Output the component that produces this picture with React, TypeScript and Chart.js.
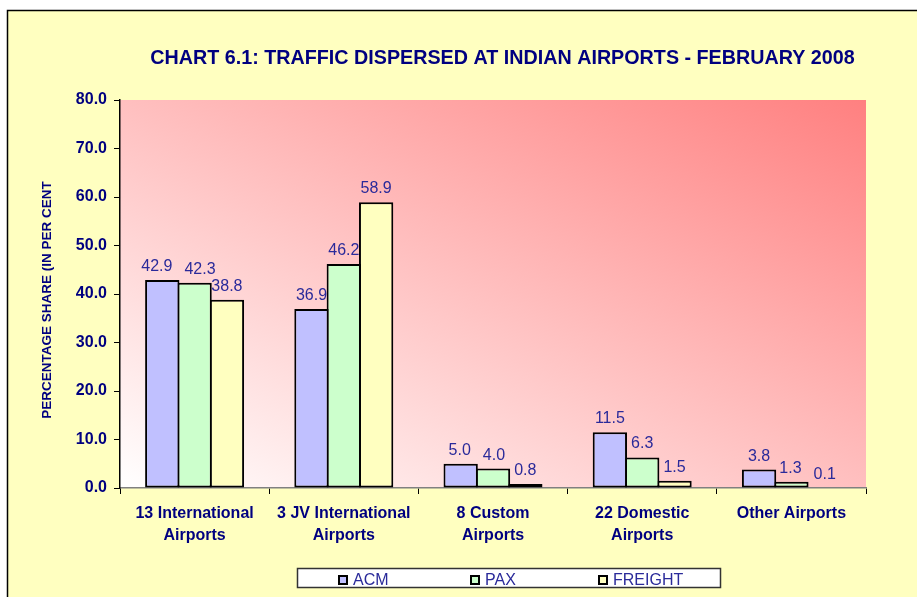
import React, { useEffect, useRef } from "react";
import { Chart, registerables } from "chart.js";

Chart.register(...registerables);

const categories: string[][] = [
  ["13 International", "Airports"],
  ["3 JV International", "Airports"],
  ["8 Custom", "Airports"],
  ["22 Domestic", "Airports"],
  ["Other Airports"],
];
const seriesNames = ["ACM", "PAX", "FREIGHT"];
const acmValues = [42.9, 36.9, 5.0, 11.5, 3.8];
const paxValues = [42.3, 46.2, 4.0, 6.3, 1.3];
const freightValues = [38.8, 58.9, 0.8, 1.5, 0.1];
const yMin = 0;
const yMax = 80;
const yStep = 10;
const chartTitle = "CHART 6.1: TRAFFIC DISPERSED AT INDIAN AIRPORTS - FEBRUARY 2008";
const yAxisTitle = "PERCENTAGE SHARE (IN PER CENT";

const seriesColors = ["#C0C0FF", "#CCFFCC", "#FFFFC0"];
const FONT = '"Liberation Sans", Arial, sans-serif';
const NAVY = "#000080";
const LABEL_BLUE = "#2A2A9A";
const BG_YELLOW = "#FFFFC0";

const decorPlugin = {
  id: "decor",
  beforeDraw(chart: any) {
    const ctx = chart.ctx as CanvasRenderingContext2D;
    const W = chart.width;
    const H = chart.height;
    ctx.save();
    ctx.fillStyle = "#FFFFFF";
    ctx.fillRect(0, 0, W, H);
    ctx.fillStyle = BG_YELLOW;
    ctx.fillRect(7, 10, W, H);
    ctx.strokeStyle = "#000000";
    ctx.lineWidth = 1.5;
    ctx.strokeRect(7.5, 10.5, W + 20, H + 20);

    // plot area gradient (diagonal, white bottom-left to red top-right)
    const a = chart.chartArea;
    const w = a.right - a.left;
    const h = a.bottom - a.top;
    const len = Math.hypot(w, h);
    const nx = h / len;
    const ny = -w / len;
    const d = (2 * w * h) / len;
    const g = ctx.createLinearGradient(a.left, a.bottom, a.left + nx * d, a.bottom + ny * d);
    g.addColorStop(0, "#FFFFFF");
    g.addColorStop(1, "#FF8080");
    ctx.fillStyle = g;
    ctx.fillRect(a.left, a.top, w, h);

    // title
    ctx.fillStyle = NAVY;
    ctx.textAlign = "center";
    ctx.textBaseline = "alphabetic";
    ctx.font = `bold 100px ${FONT}`;
    const mw = ctx.measureText(chartTitle).width;
    const size = (100 * 705) / mw;
    ctx.font = `bold ${size}px ${FONT}`;
    ctx.fillText(chartTitle, 502.5, 63.5);
    ctx.restore();
  },
  afterDatasetsDraw(chart: any) {
    const ctx = chart.ctx as CanvasRenderingContext2D;
    ctx.save();
    ctx.fillStyle = LABEL_BLUE;
    ctx.font = `16px ${FONT}`;
    ctx.textAlign = "center";
    ctx.textBaseline = "alphabetic";
    const nCat = chart.data.labels.length;
    const nDs = chart.data.datasets.length;
    const textH = 12;
    const minGap = 12;
    for (let j = 0; j < nCat; j++) {
      const items: { text: string; x: number; y: number; w: number }[] = [];
      for (let i = 0; i < nDs; i++) {
        const ds = chart.data.datasets[i];
        const el = chart.getDatasetMeta(i).data[j];
        const text = Number(ds.data[j]).toFixed(1);
        items.push({ text, x: el.x, y: el.y - 9, w: ctx.measureText(text).width });
      }
      // simple repel between neighbouring labels that collide
      for (let k = 1; k < items.length; k++) {
        const p = items[k - 1];
        const c = items[k];
        const vOverlap = Math.abs(p.y - c.y) < textH;
        const gap = c.x - c.w / 2 - (p.x + p.w / 2);
        if (vOverlap && gap < minGap) {
          const deficit = minGap - gap;
          p.x -= deficit / 2;
          c.x += deficit / 2;
        }
      }
      items.forEach((it) => ctx.fillText(it.text, it.x, it.y));
    }
    ctx.restore();
  },
  afterDraw(chart: any) {
    const ctx = chart.ctx as CanvasRenderingContext2D;
    ctx.save();
    // y axis title
    ctx.translate(47, 300);
    ctx.rotate(-Math.PI / 2);
    ctx.fillStyle = NAVY;
    ctx.font = `bold 13.5px ${FONT}`;
    ctx.textAlign = "center";
    ctx.textBaseline = "middle";
    ctx.fillText(yAxisTitle, 0, 0);
    ctx.restore();

    // legend
    ctx.save();
    ctx.fillStyle = "#FFFFFF";
    ctx.fillRect(297.5, 568.5, 423, 19);
    ctx.strokeStyle = "#333333";
    ctx.lineWidth = 1.5;
    ctx.strokeRect(297.5, 568.5, 423, 19);
    const itemX = [338, 470, 598];
    ctx.font = `16px ${FONT}`;
    ctx.textAlign = "left";
    ctx.textBaseline = "alphabetic";
    chart.data.datasets.forEach((ds: any, i: number) => {
      const x = itemX[i];
      ctx.fillStyle = ds.backgroundColor;
      ctx.fillRect(x, 575, 10, 10);
      ctx.strokeStyle = "#000000";
      ctx.lineWidth = 2;
      ctx.strokeRect(x + 1, 576, 8, 8);
      ctx.fillStyle = LABEL_BLUE;
      ctx.fillText(ds.label, x + 15, 585);
    });
    ctx.restore();
  },
};

export default function App() {
  const ref = useRef<HTMLCanvasElement | null>(null);
  useEffect(() => {
    if (!ref.current) return;
    const seriesData = [acmValues, paxValues, freightValues];
    const chart = new Chart(ref.current, {
      type: "bar",
      data: {
        labels: categories,
        datasets: seriesNames.map((name, i) => ({
          label: name,
          data: seriesData[i],
          backgroundColor: seriesColors[i],
          borderColor: "#000000",
          borderWidth: 2,
          borderSkipped: false,
          categoryPercentage: 0.65,
          barPercentage: 1.062,
        })),
      },
      options: {
        responsive: false,
        animation: false,
        devicePixelRatio: 1,
        layout: { padding: { left: 0, right: 51, top: 100, bottom: 0 } },
        plugins: {
          legend: { display: false },
          title: { display: false },
          tooltip: { enabled: false },
        },
        scales: {
          x: {
            grid: {
              display: true,
              drawOnChartArea: false,
              drawTicks: true,
              tickLength: 6,
              tickColor: "#000000",
              offset: true,
            },
            border: { display: true, color: "#808080", width: 1.5 },
            ticks: {
              color: NAVY,
              font: { family: FONT, size: 16, weight: "bold", lineHeight: 1.35 },
              padding: 9,
              maxRotation: 0,
              autoSkip: false,
            },
            afterFit: (s: any) => {
              s.height = 109;
            },
          },
          y: {
            min: yMin,
            max: yMax,
            ticks: {
              stepSize: yStep,
              callback: (v: any) => Number(v).toFixed(1),
              color: NAVY,
              font: { family: FONT, size: 16, weight: "bold" },
              padding: 7,
            },
            grid: {
              drawOnChartArea: false,
              drawTicks: true,
              tickLength: 6,
              tickColor: "#000000",
            },
            border: { display: true, color: "#000000", width: 1.5 },
            afterFit: (s: any) => {
              s.width = 120;
            },
          },
        },
      },
      plugins: [decorPlugin],
    } as any);
    return () => chart.destroy();
  }, []);
  return (
    <div style={{ position: "absolute", left: 0, top: 0, width: 917, height: 597 }}>
      <canvas ref={ref} width={917} height={597} style={{ display: "block" }} />
    </div>
  );
}
